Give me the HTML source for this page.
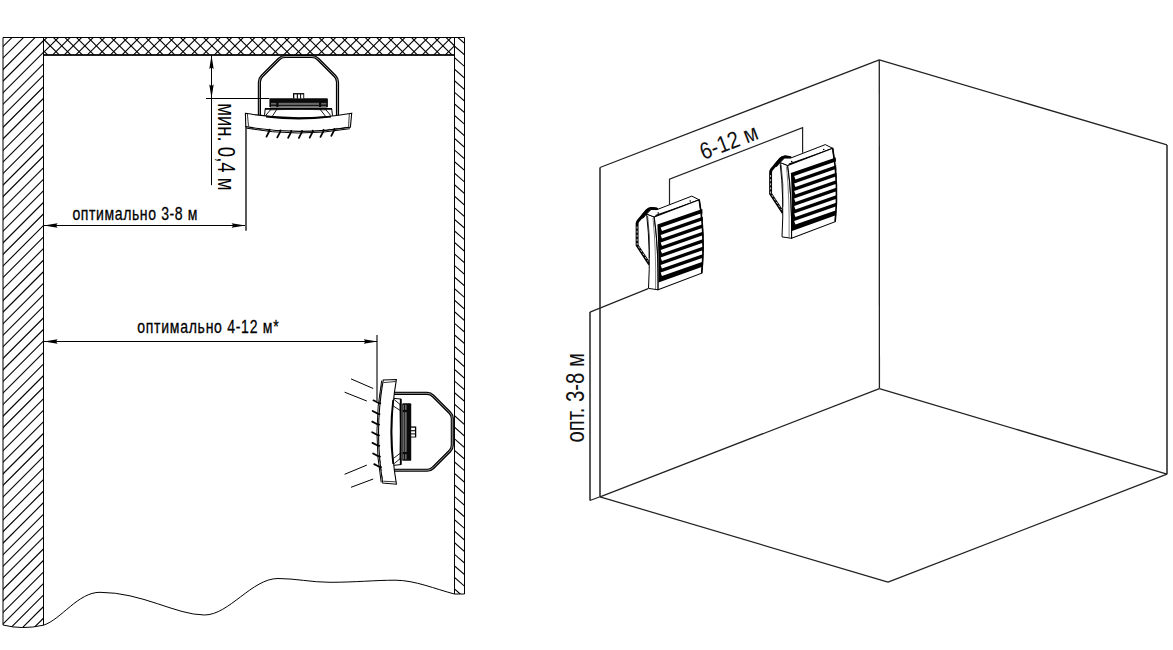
<!DOCTYPE html>
<html><head><meta charset="utf-8"><style>
html,body{margin:0;padding:0;background:#fff;}
svg{display:block;}
text{font-family:"Liberation Sans",sans-serif;}
</style></head><body>
<svg width="1173" height="650" viewBox="0 0 1173 650">
<rect width="1173" height="650" fill="#fff"/>
<defs>
<clipPath id="cL"><path d="M3,37.5 L43.5,37.5 L43.5,625.2 Q22,630 3,625 Z"/></clipPath>
<clipPath id="cC"><rect x="43.5" y="37.5" width="411" height="17.5"/></clipPath>
<clipPath id="cR"><rect x="454.5" y="37.5" width="10" height="556.5"/></clipPath>
</defs>
<g stroke="#000" stroke-width="1.1" clip-path="url(#cL)"><line x1="-5" y1="-61.00" x2="50" y2="-116.00"/><line x1="-5" y1="-49.45" x2="50" y2="-104.45"/><line x1="-5" y1="-37.90" x2="50" y2="-92.90"/><line x1="-5" y1="-26.35" x2="50" y2="-81.35"/><line x1="-5" y1="-14.80" x2="50" y2="-69.80"/><line x1="-5" y1="-3.25" x2="50" y2="-58.25"/><line x1="-5" y1="8.30" x2="50" y2="-46.70"/><line x1="-5" y1="19.85" x2="50" y2="-35.15"/><line x1="-5" y1="31.40" x2="50" y2="-23.60"/><line x1="-5" y1="42.95" x2="50" y2="-12.05"/><line x1="-5" y1="54.50" x2="50" y2="-0.50"/><line x1="-5" y1="66.05" x2="50" y2="11.05"/><line x1="-5" y1="77.60" x2="50" y2="22.60"/><line x1="-5" y1="89.15" x2="50" y2="34.15"/><line x1="-5" y1="100.70" x2="50" y2="45.70"/><line x1="-5" y1="112.25" x2="50" y2="57.25"/><line x1="-5" y1="123.80" x2="50" y2="68.80"/><line x1="-5" y1="135.35" x2="50" y2="80.35"/><line x1="-5" y1="146.90" x2="50" y2="91.90"/><line x1="-5" y1="158.45" x2="50" y2="103.45"/><line x1="-5" y1="170.00" x2="50" y2="115.00"/><line x1="-5" y1="181.55" x2="50" y2="126.55"/><line x1="-5" y1="193.10" x2="50" y2="138.10"/><line x1="-5" y1="204.65" x2="50" y2="149.65"/><line x1="-5" y1="216.20" x2="50" y2="161.20"/><line x1="-5" y1="227.75" x2="50" y2="172.75"/><line x1="-5" y1="239.30" x2="50" y2="184.30"/><line x1="-5" y1="250.85" x2="50" y2="195.85"/><line x1="-5" y1="262.40" x2="50" y2="207.40"/><line x1="-5" y1="273.95" x2="50" y2="218.95"/><line x1="-5" y1="285.50" x2="50" y2="230.50"/><line x1="-5" y1="297.05" x2="50" y2="242.05"/><line x1="-5" y1="308.60" x2="50" y2="253.60"/><line x1="-5" y1="320.15" x2="50" y2="265.15"/><line x1="-5" y1="331.70" x2="50" y2="276.70"/><line x1="-5" y1="343.25" x2="50" y2="288.25"/><line x1="-5" y1="354.80" x2="50" y2="299.80"/><line x1="-5" y1="366.35" x2="50" y2="311.35"/><line x1="-5" y1="377.90" x2="50" y2="322.90"/><line x1="-5" y1="389.45" x2="50" y2="334.45"/><line x1="-5" y1="401.00" x2="50" y2="346.00"/><line x1="-5" y1="412.55" x2="50" y2="357.55"/><line x1="-5" y1="424.10" x2="50" y2="369.10"/><line x1="-5" y1="435.65" x2="50" y2="380.65"/><line x1="-5" y1="447.20" x2="50" y2="392.20"/><line x1="-5" y1="458.75" x2="50" y2="403.75"/><line x1="-5" y1="470.30" x2="50" y2="415.30"/><line x1="-5" y1="481.85" x2="50" y2="426.85"/><line x1="-5" y1="493.40" x2="50" y2="438.40"/><line x1="-5" y1="504.95" x2="50" y2="449.95"/><line x1="-5" y1="516.50" x2="50" y2="461.50"/><line x1="-5" y1="528.05" x2="50" y2="473.05"/><line x1="-5" y1="539.60" x2="50" y2="484.60"/><line x1="-5" y1="551.15" x2="50" y2="496.15"/><line x1="-5" y1="562.70" x2="50" y2="507.70"/><line x1="-5" y1="574.25" x2="50" y2="519.25"/><line x1="-5" y1="585.80" x2="50" y2="530.80"/><line x1="-5" y1="597.35" x2="50" y2="542.35"/><line x1="-5" y1="608.90" x2="50" y2="553.90"/><line x1="-5" y1="620.45" x2="50" y2="565.45"/><line x1="-5" y1="632.00" x2="50" y2="577.00"/><line x1="-5" y1="643.55" x2="50" y2="588.55"/><line x1="-5" y1="655.10" x2="50" y2="600.10"/><line x1="-5" y1="666.65" x2="50" y2="611.65"/><line x1="-5" y1="678.20" x2="50" y2="623.20"/></g>
<g stroke="#000" stroke-width="1.1" clip-path="url(#cC)"><line x1="-164.95" y1="30" x2="-194.95" y2="60"/><line x1="-153.40" y1="30" x2="-183.40" y2="60"/><line x1="-141.85" y1="30" x2="-171.85" y2="60"/><line x1="-130.30" y1="30" x2="-160.30" y2="60"/><line x1="-118.75" y1="30" x2="-148.75" y2="60"/><line x1="-107.20" y1="30" x2="-137.20" y2="60"/><line x1="-95.65" y1="30" x2="-125.65" y2="60"/><line x1="-84.10" y1="30" x2="-114.10" y2="60"/><line x1="-72.55" y1="30" x2="-102.55" y2="60"/><line x1="-61.00" y1="30" x2="-91.00" y2="60"/><line x1="-49.45" y1="30" x2="-79.45" y2="60"/><line x1="-37.90" y1="30" x2="-67.90" y2="60"/><line x1="-26.35" y1="30" x2="-56.35" y2="60"/><line x1="-14.80" y1="30" x2="-44.80" y2="60"/><line x1="-3.25" y1="30" x2="-33.25" y2="60"/><line x1="8.30" y1="30" x2="-21.70" y2="60"/><line x1="19.85" y1="30" x2="-10.15" y2="60"/><line x1="31.40" y1="30" x2="1.40" y2="60"/><line x1="42.95" y1="30" x2="12.95" y2="60"/><line x1="54.50" y1="30" x2="24.50" y2="60"/><line x1="66.05" y1="30" x2="36.05" y2="60"/><line x1="77.60" y1="30" x2="47.60" y2="60"/><line x1="89.15" y1="30" x2="59.15" y2="60"/><line x1="100.70" y1="30" x2="70.70" y2="60"/><line x1="112.25" y1="30" x2="82.25" y2="60"/><line x1="123.80" y1="30" x2="93.80" y2="60"/><line x1="135.35" y1="30" x2="105.35" y2="60"/><line x1="146.90" y1="30" x2="116.90" y2="60"/><line x1="158.45" y1="30" x2="128.45" y2="60"/><line x1="170.00" y1="30" x2="140.00" y2="60"/><line x1="181.55" y1="30" x2="151.55" y2="60"/><line x1="193.10" y1="30" x2="163.10" y2="60"/><line x1="204.65" y1="30" x2="174.65" y2="60"/><line x1="216.20" y1="30" x2="186.20" y2="60"/><line x1="227.75" y1="30" x2="197.75" y2="60"/><line x1="239.30" y1="30" x2="209.30" y2="60"/><line x1="250.85" y1="30" x2="220.85" y2="60"/><line x1="262.40" y1="30" x2="232.40" y2="60"/><line x1="273.95" y1="30" x2="243.95" y2="60"/><line x1="285.50" y1="30" x2="255.50" y2="60"/><line x1="297.05" y1="30" x2="267.05" y2="60"/><line x1="308.60" y1="30" x2="278.60" y2="60"/><line x1="320.15" y1="30" x2="290.15" y2="60"/><line x1="331.70" y1="30" x2="301.70" y2="60"/><line x1="343.25" y1="30" x2="313.25" y2="60"/><line x1="354.80" y1="30" x2="324.80" y2="60"/><line x1="366.35" y1="30" x2="336.35" y2="60"/><line x1="377.90" y1="30" x2="347.90" y2="60"/><line x1="389.45" y1="30" x2="359.45" y2="60"/><line x1="401.00" y1="30" x2="371.00" y2="60"/><line x1="412.55" y1="30" x2="382.55" y2="60"/><line x1="424.10" y1="30" x2="394.10" y2="60"/><line x1="435.65" y1="30" x2="405.65" y2="60"/><line x1="447.20" y1="30" x2="417.20" y2="60"/><line x1="458.75" y1="30" x2="428.75" y2="60"/><line x1="470.30" y1="30" x2="440.30" y2="60"/><line x1="481.85" y1="30" x2="451.85" y2="60"/><line x1="493.40" y1="30" x2="463.40" y2="60"/><line x1="504.95" y1="30" x2="474.95" y2="60"/><line x1="516.50" y1="30" x2="486.50" y2="60"/><line x1="528.05" y1="30" x2="498.05" y2="60"/><line x1="539.60" y1="30" x2="509.60" y2="60"/><line x1="551.15" y1="30" x2="521.15" y2="60"/><line x1="562.70" y1="30" x2="532.70" y2="60"/><line x1="574.25" y1="30" x2="544.25" y2="60"/><line x1="585.80" y1="30" x2="555.80" y2="60"/><line x1="597.35" y1="30" x2="567.35" y2="60"/><line x1="608.90" y1="30" x2="578.90" y2="60"/><line x1="620.45" y1="30" x2="590.45" y2="60"/><line x1="632.00" y1="30" x2="602.00" y2="60"/><line x1="643.55" y1="30" x2="613.55" y2="60"/><line x1="655.10" y1="30" x2="625.10" y2="60"/><line x1="666.65" y1="30" x2="636.65" y2="60"/><line x1="678.20" y1="30" x2="648.20" y2="60"/><line x1="689.75" y1="30" x2="659.75" y2="60"/><line x1="701.30" y1="30" x2="671.30" y2="60"/><line x1="712.85" y1="30" x2="682.85" y2="60"/><line x1="724.40" y1="30" x2="694.40" y2="60"/><line x1="735.95" y1="30" x2="705.95" y2="60"/><line x1="747.50" y1="30" x2="717.50" y2="60"/><line x1="554.10" y1="30" x2="584.10" y2="60"/><line x1="542.55" y1="30" x2="572.55" y2="60"/><line x1="531.00" y1="30" x2="561.00" y2="60"/><line x1="519.45" y1="30" x2="549.45" y2="60"/><line x1="507.90" y1="30" x2="537.90" y2="60"/><line x1="496.35" y1="30" x2="526.35" y2="60"/><line x1="484.80" y1="30" x2="514.80" y2="60"/><line x1="473.25" y1="30" x2="503.25" y2="60"/><line x1="461.70" y1="30" x2="491.70" y2="60"/><line x1="450.15" y1="30" x2="480.15" y2="60"/><line x1="438.60" y1="30" x2="468.60" y2="60"/><line x1="427.05" y1="30" x2="457.05" y2="60"/><line x1="415.50" y1="30" x2="445.50" y2="60"/><line x1="403.95" y1="30" x2="433.95" y2="60"/><line x1="392.40" y1="30" x2="422.40" y2="60"/><line x1="380.85" y1="30" x2="410.85" y2="60"/><line x1="369.30" y1="30" x2="399.30" y2="60"/><line x1="357.75" y1="30" x2="387.75" y2="60"/><line x1="346.20" y1="30" x2="376.20" y2="60"/><line x1="334.65" y1="30" x2="364.65" y2="60"/><line x1="323.10" y1="30" x2="353.10" y2="60"/><line x1="311.55" y1="30" x2="341.55" y2="60"/><line x1="300.00" y1="30" x2="330.00" y2="60"/><line x1="288.45" y1="30" x2="318.45" y2="60"/><line x1="276.90" y1="30" x2="306.90" y2="60"/><line x1="265.35" y1="30" x2="295.35" y2="60"/><line x1="253.80" y1="30" x2="283.80" y2="60"/><line x1="242.25" y1="30" x2="272.25" y2="60"/><line x1="230.70" y1="30" x2="260.70" y2="60"/><line x1="219.15" y1="30" x2="249.15" y2="60"/><line x1="207.60" y1="30" x2="237.60" y2="60"/><line x1="196.05" y1="30" x2="226.05" y2="60"/><line x1="184.50" y1="30" x2="214.50" y2="60"/><line x1="172.95" y1="30" x2="202.95" y2="60"/><line x1="161.40" y1="30" x2="191.40" y2="60"/><line x1="149.85" y1="30" x2="179.85" y2="60"/><line x1="138.30" y1="30" x2="168.30" y2="60"/><line x1="126.75" y1="30" x2="156.75" y2="60"/><line x1="115.20" y1="30" x2="145.20" y2="60"/><line x1="103.65" y1="30" x2="133.65" y2="60"/><line x1="92.10" y1="30" x2="122.10" y2="60"/><line x1="80.55" y1="30" x2="110.55" y2="60"/><line x1="69.00" y1="30" x2="99.00" y2="60"/><line x1="57.45" y1="30" x2="87.45" y2="60"/><line x1="45.90" y1="30" x2="75.90" y2="60"/><line x1="34.35" y1="30" x2="64.35" y2="60"/><line x1="22.80" y1="30" x2="52.80" y2="60"/><line x1="11.25" y1="30" x2="41.25" y2="60"/><line x1="-0.30" y1="30" x2="29.70" y2="60"/><line x1="-11.85" y1="30" x2="18.15" y2="60"/><line x1="-23.40" y1="30" x2="6.60" y2="60"/><line x1="-34.95" y1="30" x2="-4.95" y2="60"/><line x1="-46.50" y1="30" x2="-16.50" y2="60"/><line x1="-58.05" y1="30" x2="-28.05" y2="60"/><line x1="-69.60" y1="30" x2="-39.60" y2="60"/></g>
<g stroke="#000" stroke-width="1.1" clip-path="url(#cR)"><line x1="450" y1="-15.61" x2="470" y2="1.99"/><line x1="450" y1="-4.06" x2="470" y2="13.54"/><line x1="450" y1="7.49" x2="470" y2="25.09"/><line x1="450" y1="19.04" x2="470" y2="36.64"/><line x1="450" y1="30.59" x2="470" y2="48.19"/><line x1="450" y1="42.14" x2="470" y2="59.74"/><line x1="450" y1="53.69" x2="470" y2="71.29"/><line x1="450" y1="65.24" x2="470" y2="82.84"/><line x1="450" y1="76.79" x2="470" y2="94.39"/><line x1="450" y1="88.34" x2="470" y2="105.94"/><line x1="450" y1="99.89" x2="470" y2="117.49"/><line x1="450" y1="111.44" x2="470" y2="129.04"/><line x1="450" y1="122.99" x2="470" y2="140.59"/><line x1="450" y1="134.54" x2="470" y2="152.14"/><line x1="450" y1="146.09" x2="470" y2="163.69"/><line x1="450" y1="157.64" x2="470" y2="175.24"/><line x1="450" y1="169.19" x2="470" y2="186.79"/><line x1="450" y1="180.74" x2="470" y2="198.34"/><line x1="450" y1="192.29" x2="470" y2="209.89"/><line x1="450" y1="203.84" x2="470" y2="221.44"/><line x1="450" y1="215.39" x2="470" y2="232.99"/><line x1="450" y1="226.94" x2="470" y2="244.54"/><line x1="450" y1="238.49" x2="470" y2="256.09"/><line x1="450" y1="250.04" x2="470" y2="267.64"/><line x1="450" y1="261.59" x2="470" y2="279.19"/><line x1="450" y1="273.14" x2="470" y2="290.74"/><line x1="450" y1="284.69" x2="470" y2="302.29"/><line x1="450" y1="296.24" x2="470" y2="313.84"/><line x1="450" y1="307.79" x2="470" y2="325.39"/><line x1="450" y1="319.34" x2="470" y2="336.94"/><line x1="450" y1="330.89" x2="470" y2="348.49"/><line x1="450" y1="342.44" x2="470" y2="360.04"/><line x1="450" y1="353.99" x2="470" y2="371.59"/><line x1="450" y1="365.54" x2="470" y2="383.14"/><line x1="450" y1="377.09" x2="470" y2="394.69"/><line x1="450" y1="388.64" x2="470" y2="406.24"/><line x1="450" y1="400.19" x2="470" y2="417.79"/><line x1="450" y1="411.74" x2="470" y2="429.34"/><line x1="450" y1="423.29" x2="470" y2="440.89"/><line x1="450" y1="434.84" x2="470" y2="452.44"/><line x1="450" y1="446.39" x2="470" y2="463.99"/><line x1="450" y1="457.94" x2="470" y2="475.54"/><line x1="450" y1="469.49" x2="470" y2="487.09"/><line x1="450" y1="481.04" x2="470" y2="498.64"/><line x1="450" y1="492.59" x2="470" y2="510.19"/><line x1="450" y1="504.14" x2="470" y2="521.74"/><line x1="450" y1="515.69" x2="470" y2="533.29"/><line x1="450" y1="527.24" x2="470" y2="544.84"/><line x1="450" y1="538.79" x2="470" y2="556.39"/><line x1="450" y1="550.34" x2="470" y2="567.94"/><line x1="450" y1="561.89" x2="470" y2="579.49"/><line x1="450" y1="573.44" x2="470" y2="591.04"/><line x1="450" y1="584.99" x2="470" y2="602.59"/><line x1="450" y1="596.54" x2="470" y2="614.14"/><line x1="450" y1="608.09" x2="470" y2="625.69"/><line x1="450" y1="619.64" x2="470" y2="637.24"/><line x1="450" y1="631.19" x2="470" y2="648.79"/><line x1="450" y1="642.74" x2="470" y2="660.34"/><line x1="450" y1="654.29" x2="470" y2="671.89"/><line x1="450" y1="665.84" x2="470" y2="683.44"/><line x1="450" y1="677.39" x2="470" y2="694.99"/><line x1="450" y1="688.94" x2="470" y2="706.54"/><line x1="450" y1="700.49" x2="470" y2="718.09"/><line x1="450" y1="712.04" x2="470" y2="729.64"/><line x1="450" y1="723.59" x2="470" y2="741.19"/></g>
<g stroke="#000" stroke-width="1" fill="none">
<path d="M3,625 L3,37.5 L464.5,37.5 L464.5,594 L454.5,594 L454.5,55 L43.5,55 L43.5,625.2"/>
<path d="M3,625 Q22,630 43.5,625.2"/>
<path d="M43.5,37.5 L43.5,55 M454.5,37.5 L454.5,55"/>
<path d="M43.5,55 L454.5,55" stroke-width="1.4"/>
<path d="M43.5,625.2 C61.5,619.2 78,592.3 100,592.3 C142,592.3 176,615 204.5,615 C229,615 252,578.5 278,578.5 C296,578.5 311,582.3 330,582.3 C355,582.3 375,580.2 395,580.2 C415,580.2 435,589 454.5,594"/>
</g>
<g><path d="M259.4,115.6 L259.4,82 Q259.4,78.6 261.9,76.1 L278.9,59.1 Q281.5,56.5 285,56.5 L311.9,56.5 Q315.4,56.5 318,59.1 L335,76.1 Q337.5,78.6 337.5,82 L337.5,115.6" stroke="#000" stroke-width="3.2" fill="none"/><path d="M259.4,115.6 L259.4,82 Q259.4,78.6 261.9,76.1 L278.9,59.1 Q281.5,56.5 285,56.5 L311.9,56.5 Q315.4,56.5 318,59.1 L335,76.1 Q337.5,78.6 337.5,82 L337.5,115.6" stroke="#fff" stroke-width="0.6" fill="none"/><rect x="269.4" y="98.2" width="58.5" height="9.2" rx="1.2" fill="#0a0a0a"/><rect x="278.5" y="102.8" width="40.5" height="2.1" fill="#6a6a6a"/><rect x="271" y="102.9" width="5.2" height="1.7" fill="#6a6a6a"/><rect x="321.2" y="102.9" width="5.2" height="1.7" fill="#6a6a6a"/><rect x="278.5" y="105.9" width="40.5" height="0.8" fill="#9a9a9a"/><rect x="271" y="105.9" width="5.2" height="0.8" fill="#9a9a9a"/><rect x="321.2" y="105.9" width="5.2" height="0.8" fill="#9a9a9a"/><rect x="293" y="93.1" width="11.2" height="5.4" fill="#000"/><rect x="294.3" y="94.4" width="2.5" height="3.9" fill="#fff"/><rect x="297.9" y="94.4" width="2.2" height="3.9" fill="#fff"/><rect x="301.1" y="94.4" width="2.2" height="3.9" fill="#fff"/><path d="M264.5,116 L265.2,108.6 L331.7,108.6 L332.5,115.8" stroke="#000" stroke-width="1" fill="none"/><line x1="265" y1="108.9" x2="332" y2="108.9" stroke="#000" stroke-width="1.7"/><path d="M271.3,108.8 L265.6,115.6 M277,109 L272.2,116.5 M319.9,109 L325.3,116 M325.3,109 L330.7,115.5" stroke="#000" stroke-width="0.9" fill="none"/><path d="M270,110 Q298.5,108.2 327,110" stroke="#000" stroke-width="0.5" fill="none"/><path d="M245.4,113.3 Q298.5,122.4 351.7,113.2 L350.4,127.1 Q298.5,135.9 245.8,126.6 Z" fill="#fff" stroke="#000" stroke-width="1.1"/><path d="M247.4,114 L248.5,126.3 M349.3,113.6 L348.6,126.6" stroke="#000" stroke-width="0.8" fill="none"/><path d="M246.5,128.2 Q298.5,137.6 349.8,128.7" stroke="#000" stroke-width="1" fill="none"/><path d="M250,127.4 L254,129 M258,128.6 L262,130.2 M266,129.7 L270,131.2 M326,130.6 L330,129.2 M334,129.6 L338,128.2 M342,128.4 L346,127.2" stroke="#000" stroke-width="0.6" fill="none"/><path d="M266,116.6 Q298.5,120.6 331,116.6" stroke="#000" stroke-width="1.6" fill="none"/><path d="M269.6,129.6 L269.4,131.0 L266.5,136.6" stroke="#000" stroke-width="1.8" fill="none" stroke-linecap="round"/><path d="M280.4,130.4 L280.2,131.8 L277.3,137.4" stroke="#000" stroke-width="1.8" fill="none" stroke-linecap="round"/><path d="M291.2,130.8 L291.0,132.2 L288.1,137.8" stroke="#000" stroke-width="1.8" fill="none" stroke-linecap="round"/><path d="M302.0,130.9 L301.8,132.3 L298.9,137.9" stroke="#000" stroke-width="1.8" fill="none" stroke-linecap="round"/><path d="M312.8,130.6 L312.6,132.0 L309.7,137.6" stroke="#000" stroke-width="1.8" fill="none" stroke-linecap="round"/><path d="M323.6,129.9 L323.4,131.3 L320.5,136.9" stroke="#000" stroke-width="1.8" fill="none" stroke-linecap="round"/><path d="M334.4,128.8 L334.2,130.2 L331.3,135.8" stroke="#000" stroke-width="1.8" fill="none" stroke-linecap="round"/></g>
<g transform="translate(452.6,431.8) rotate(90) scale(0.985) translate(-298.45,-56.2)"><path d="M259.4,115.6 L259.4,82 Q259.4,78.6 261.9,76.1 L278.9,59.1 Q281.5,56.5 285,56.5 L311.9,56.5 Q315.4,56.5 318,59.1 L335,76.1 Q337.5,78.6 337.5,82 L337.5,115.6" stroke="#000" stroke-width="3.2" fill="none"/><path d="M259.4,115.6 L259.4,82 Q259.4,78.6 261.9,76.1 L278.9,59.1 Q281.5,56.5 285,56.5 L311.9,56.5 Q315.4,56.5 318,59.1 L335,76.1 Q337.5,78.6 337.5,82 L337.5,115.6" stroke="#fff" stroke-width="0.6" fill="none"/><rect x="269.4" y="98.2" width="58.5" height="9.2" rx="1.2" fill="#0a0a0a"/><rect x="278.5" y="102.8" width="40.5" height="2.1" fill="#6a6a6a"/><rect x="271" y="102.9" width="5.2" height="1.7" fill="#6a6a6a"/><rect x="321.2" y="102.9" width="5.2" height="1.7" fill="#6a6a6a"/><rect x="278.5" y="105.9" width="40.5" height="0.8" fill="#9a9a9a"/><rect x="271" y="105.9" width="5.2" height="0.8" fill="#9a9a9a"/><rect x="321.2" y="105.9" width="5.2" height="0.8" fill="#9a9a9a"/><rect x="293" y="93.1" width="11.2" height="5.4" fill="#000"/><rect x="294.3" y="94.4" width="2.5" height="3.9" fill="#fff"/><rect x="297.9" y="94.4" width="2.2" height="3.9" fill="#fff"/><rect x="301.1" y="94.4" width="2.2" height="3.9" fill="#fff"/><path d="M264.5,116 L265.2,108.6 L331.7,108.6 L332.5,115.8" stroke="#000" stroke-width="1" fill="none"/><line x1="265" y1="108.9" x2="332" y2="108.9" stroke="#000" stroke-width="1.7"/><path d="M271.3,108.8 L265.6,115.6 M277,109 L272.2,116.5 M319.9,109 L325.3,116 M325.3,109 L330.7,115.5" stroke="#000" stroke-width="0.9" fill="none"/><path d="M270,110 Q298.5,108.2 327,110" stroke="#000" stroke-width="0.5" fill="none"/><path d="M245.4,113.3 Q298.5,122.4 351.7,113.2 L350.4,127.1 Q298.5,135.9 245.8,126.6 Z" fill="#fff" stroke="#000" stroke-width="1.1"/><path d="M247.4,114 L248.5,126.3 M349.3,113.6 L348.6,126.6" stroke="#000" stroke-width="0.8" fill="none"/><path d="M246.5,128.2 Q298.5,137.6 349.8,128.7" stroke="#000" stroke-width="1" fill="none"/><path d="M250,127.4 L254,129 M258,128.6 L262,130.2 M266,129.7 L270,131.2 M326,130.6 L330,129.2 M334,129.6 L338,128.2 M342,128.4 L346,127.2" stroke="#000" stroke-width="0.6" fill="none"/><path d="M266,116.6 Q298.5,120.6 331,116.6" stroke="#000" stroke-width="1.6" fill="none"/><path d="M269.6,129.6 L269.4,131.0 L266.5,136.6" stroke="#000" stroke-width="1.8" fill="none" stroke-linecap="round"/><path d="M280.4,130.4 L280.2,131.8 L277.3,137.4" stroke="#000" stroke-width="1.8" fill="none" stroke-linecap="round"/><path d="M291.2,130.8 L291.0,132.2 L288.1,137.8" stroke="#000" stroke-width="1.8" fill="none" stroke-linecap="round"/><path d="M302.0,130.9 L301.8,132.3 L298.9,137.9" stroke="#000" stroke-width="1.8" fill="none" stroke-linecap="round"/><path d="M312.8,130.6 L312.6,132.0 L309.7,137.6" stroke="#000" stroke-width="1.8" fill="none" stroke-linecap="round"/><path d="M323.6,129.9 L323.4,131.3 L320.5,136.9" stroke="#000" stroke-width="1.8" fill="none" stroke-linecap="round"/><path d="M334.4,128.8 L334.2,130.2 L331.3,135.8" stroke="#000" stroke-width="1.8" fill="none" stroke-linecap="round"/></g>
<path d="M351,378.9 L373.2,388.5 M344.6,392.2 L366.8,401 M344.6,474.3 L366.8,465.1 M351,487.3 L373.2,479" stroke="#000" stroke-width="1"/>
<line x1="211.5" y1="55" x2="211.5" y2="185.2" stroke="#000" stroke-width="1"/>
<line x1="206" y1="98.5" x2="269.4" y2="98.5" stroke="#000" stroke-width="1"/>
<path d="M211.5,55.3 L209.3,69 L211.5,67.4 L213.7,69 Z M211.5,98.2 L209.3,84.5 L211.5,86.1 L213.7,84.5 Z" fill="#000"/>
<text x="0" y="0" transform="translate(217.8,103.2) rotate(90)" font-size="24" textLength="87.3" lengthAdjust="spacingAndGlyphs">мин. 0,4 м</text>
<line x1="246" y1="126" x2="246" y2="230.8" stroke="#000" stroke-width="1.3"/>
<line x1="44" y1="225.5" x2="245" y2="225.5" stroke="#000" stroke-width="1"/>
<path d="M43.8,225.5 L57.6,223.3 L56,225.5 L57.6,227.7 Z M245.4,225.5 L231.6,223.3 L233.2,225.5 L231.6,227.7 Z" fill="#000"/>
<text transform="scale(0.78,1)" x="92.82" y="220.1" font-size="18" stroke="#000" stroke-width="0.3" textLength="160.26" lengthAdjust="spacing">оптимально 3-8 м</text>
<line x1="44" y1="341.5" x2="377" y2="341.5" stroke="#000" stroke-width="1"/>
<path d="M43.8,341.5 L57.6,339.3 L56,341.5 L57.6,343.7 Z M377.5,341.5 L363.7,339.3 L365.3,341.5 L363.7,343.7 Z" fill="#000"/>
<text transform="scale(0.78,1)" x="176.03" y="333.1" font-size="18" stroke="#000" stroke-width="0.3" textLength="181.15" lengthAdjust="spacing">оптимально 4-12 м*</text>
<line x1="377" y1="335" x2="377" y2="401" stroke="#000" stroke-width="1.1"/>
<line x1="600.0" y1="167.5" x2="879.3" y2="59.8" stroke="#222" stroke-width="1.25"/>
<line x1="879.3" y1="59.8" x2="1167.0" y2="144.9" stroke="#222" stroke-width="1.25"/>
<line x1="600.0" y1="496.8" x2="879.4" y2="388.6" stroke="#222" stroke-width="1.25"/>
<line x1="879.4" y1="388.6" x2="1167.0" y2="474.2" stroke="#222" stroke-width="1.25"/>
<line x1="600.0" y1="496.8" x2="888.0" y2="582.1" stroke="#222" stroke-width="1.25"/>
<line x1="888.0" y1="582.1" x2="1167.0" y2="474.2" stroke="#222" stroke-width="1.25"/>
<line x1="879.3" y1="59.8" x2="879.4" y2="388.6" stroke="#222" stroke-width="1.3"/>
<line x1="600.0" y1="167.5" x2="600.0" y2="496.8" stroke="#222" stroke-width="1.5"/>
<line x1="1167.0" y1="144.9" x2="1167.0" y2="474.2" stroke="#222" stroke-width="1.5"/>
<path d="M669.5,205 L669.5,179.2 L802.6,127.6 L802.6,152.7" fill="none" stroke="#222" stroke-width="1.2"/>
<path d="M648.2,288.6 L590,312.1 M590,500.5 L600,496.8" fill="none" stroke="#222" stroke-width="1.2"/>
<line x1="590" y1="312.1" x2="590" y2="500.5" stroke="#222" stroke-width="1.5"/>
<text transform="translate(703.6,159.9) rotate(-20.9)" font-size="23.5" textLength="60" lengthAdjust="spacingAndGlyphs" fill="#111">6-12 м</text>
<text transform="translate(583.9,442.6) rotate(-90)" font-size="25.5" textLength="89.5" lengthAdjust="spacingAndGlyphs" fill="#111">опт. 3-8 м</text>
<g><path d="M656.5,209.2 L651.5,208.4 Q649,208.5 647.2,210.3 L637.9,221.3 Q637.1,222.4 637.1,223.8 L637.1,245.3 L649.6,264.4" fill="none" stroke="#000" stroke-width="2.9" stroke-linejoin="round"/><path d="M656.5,209.4 L651.5,208.7 Q649,208.8 647.4,210.6 L642.5,216.5" fill="none" stroke="#000" stroke-width="3.6" stroke-linecap="round"/><path d="M637.1,226.5 L637.1,244.6 L648.2,261.7" fill="none" stroke="#fff" stroke-width="0.75" stroke-dasharray="2.2,1.9"/><path d="M646.6,214 L654.2,217 Q658.6,248 658.1,289.8 L648.5,288.4 Q650.8,250 646.6,214 Z" fill="#fff" stroke="#000" stroke-width="1"/><path d="M647.6,216 Q650.3,236 649.3,258" fill="none" stroke="#000" stroke-width="0.7"/><path d="M653,218 Q656.2,250 655.6,289" fill="none" stroke="#000" stroke-width="0.5"/><path d="M646.6,214 L651,209.5 L657,209.6 L691.8,196.1 L699.2,199.8 L654.2,217 Z" fill="#fff" stroke="#000" stroke-width="1" stroke-linejoin="round"/><path d="M655.5,215.6 L698.3,200.6" stroke="#000" stroke-width="1.5"/><circle cx="658.2" cy="213.1" r="0.8" fill="#000"/><circle cx="690.2" cy="201" r="0.8" fill="#000"/><path d="M654.2,217 L699.2,199.8 Q705.4,236 701.7,273.2 L658.1,289.8 Q658.6,248 654.2,217 Z" fill="#fff" stroke="#000" stroke-width="1.1"/><path d="M657.4,224.6 L702.3,208.9 Q704.2,236 702.3,266.8 L658.5,282.6 Q658.6,250 657.4,224.6 Z" fill="#000"/><g stroke="#fff" stroke-width="3.8"><line x1="661.3" y1="229.22" x2="702.8" y2="214.70"/><line x1="661.3" y1="236.72" x2="702.8" y2="222.20"/><line x1="661.3" y1="244.22" x2="702.8" y2="229.70"/><line x1="661.3" y1="251.72" x2="702.8" y2="237.20"/><line x1="661.3" y1="259.22" x2="702.8" y2="244.70"/><line x1="661.3" y1="266.72" x2="702.8" y2="252.19"/><line x1="661.3" y1="274.22" x2="702.8" y2="259.69"/></g><path d="M699.2,199.8 Q705.4,236 701.7,273.2" fill="none" stroke="#000" stroke-width="1.6"/></g>
<g transform="translate(133.5,-51.5)"><path d="M656.5,209.2 L651.5,208.4 Q649,208.5 647.2,210.3 L637.9,221.3 Q637.1,222.4 637.1,223.8 L637.1,245.3 L649.6,264.4" fill="none" stroke="#000" stroke-width="2.9" stroke-linejoin="round"/><path d="M656.5,209.4 L651.5,208.7 Q649,208.8 647.4,210.6 L642.5,216.5" fill="none" stroke="#000" stroke-width="3.6" stroke-linecap="round"/><path d="M637.1,226.5 L637.1,244.6 L648.2,261.7" fill="none" stroke="#fff" stroke-width="0.75" stroke-dasharray="2.2,1.9"/><path d="M646.6,214 L654.2,217 Q658.6,248 658.1,289.8 L648.5,288.4 Q650.8,250 646.6,214 Z" fill="#fff" stroke="#000" stroke-width="1"/><path d="M647.6,216 Q650.3,236 649.3,258" fill="none" stroke="#000" stroke-width="0.7"/><path d="M653,218 Q656.2,250 655.6,289" fill="none" stroke="#000" stroke-width="0.5"/><path d="M646.6,214 L651,209.5 L657,209.6 L691.8,196.1 L699.2,199.8 L654.2,217 Z" fill="#fff" stroke="#000" stroke-width="1" stroke-linejoin="round"/><path d="M655.5,215.6 L698.3,200.6" stroke="#000" stroke-width="1.5"/><circle cx="658.2" cy="213.1" r="0.8" fill="#000"/><circle cx="690.2" cy="201" r="0.8" fill="#000"/><path d="M654.2,217 L699.2,199.8 Q705.4,236 701.7,273.2 L658.1,289.8 Q658.6,248 654.2,217 Z" fill="#fff" stroke="#000" stroke-width="1.1"/><path d="M657.4,224.6 L702.3,208.9 Q704.2,236 702.3,266.8 L658.5,282.6 Q658.6,250 657.4,224.6 Z" fill="#000"/><g stroke="#fff" stroke-width="3.8"><line x1="661.3" y1="229.22" x2="702.8" y2="214.70"/><line x1="661.3" y1="236.72" x2="702.8" y2="222.20"/><line x1="661.3" y1="244.22" x2="702.8" y2="229.70"/><line x1="661.3" y1="251.72" x2="702.8" y2="237.20"/><line x1="661.3" y1="259.22" x2="702.8" y2="244.70"/><line x1="661.3" y1="266.72" x2="702.8" y2="252.19"/><line x1="661.3" y1="274.22" x2="702.8" y2="259.69"/></g><path d="M699.2,199.8 Q705.4,236 701.7,273.2" fill="none" stroke="#000" stroke-width="1.6"/></g>
</svg>
</body></html>
